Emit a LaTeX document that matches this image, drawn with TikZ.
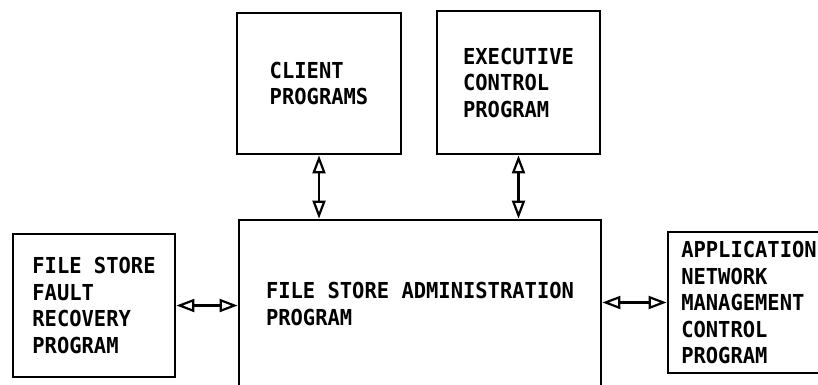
\documentclass[tikz,border=0pt]{standalone}
\usepackage{fontspec}
\usepackage{tikz}
\usetikzlibrary{arrows.meta}
\newfontfamily\plotter{DejaVu Sans Mono}[FakeStretch=0.93]

\tikzset{
  progbox/.style={draw, line width=2.8pt, align=left, inner sep=0pt,
    font=\plotter\bfseries\fontsize{22}{26.5}\selectfont},
  link/.style={line width=2.2pt,
    {Triangle[open,length=18pt,width=13pt]}-{Triangle[open,length=18pt,width=13pt]}}
}

\begin{document}
\begin{tikzpicture}[x=1pt,y=-1pt]
\useasboundingbox (0,0) rectangle (818,384);
% upper row
\node[progbox, minimum width=164pt, minimum height=141pt] (client) at (319,83.5) {CLIENT\\PROGRAMS};
\node[progbox, minimum width=163pt, minimum height=143pt] (exec) at (518.5,82.5) {EXECUTIVE\\CONTROL\\PROGRAM};
% middle row
\node[progbox, minimum width=362pt, minimum height=168pt] (admin) at (420,304) {FILE STORE ADMINISTRATION\\PROGRAM};
\node[progbox, minimum width=162pt, minimum height=143pt] (recovery) at (94,305.5) {FILE STORE\\FAULT\\RECOVERY\\PROGRAM};
\node[progbox, minimum width=162pt, minimum height=141pt] (netmgmt) at (749,302.5) {APPLICATION\\NETWORK\\MANAGEMENT\\CONTROL\\PROGRAM};
% links
\draw[link] (client.south) -- (client.south |- admin.north);
\draw[link] (exec.south) -- (exec.south |- admin.north);
\draw[link] (recovery.east) -- (recovery.east -| admin.west);
\draw[link] (admin.east |- netmgmt.west) -- (netmgmt.west);
\end{tikzpicture}
\end{document}
